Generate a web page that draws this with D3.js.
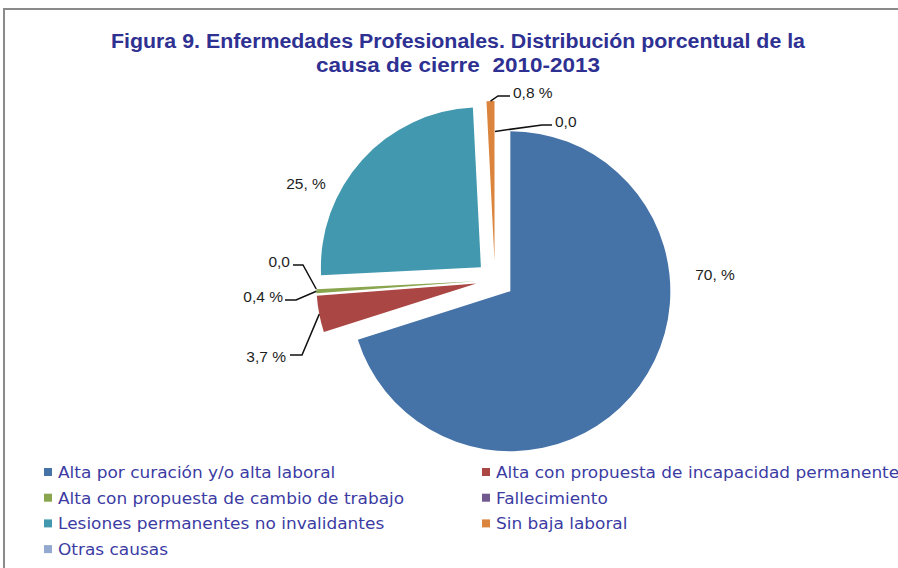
<!DOCTYPE html>
<html>
<head>
<meta charset="utf-8">
<script src="https://cdn.jsdelivr.net/npm/d3@7"></script>
<style>
  body { margin: 0; background: #fff; }
  svg { display: block; }
</style>
</head>
<body>
<svg id="chart" width="898" height="568"></svg>
<script>
const categories = [
  "Alta por curación y/o alta laboral",
  "Alta con propuesta de incapacidad permanente",
  "Alta con propuesta de cambio de trabajo",
  "Fallecimiento",
  "Lesiones permanentes no invalidantes",
  "Sin baja laboral",
  "Otras causas"
];
const values = [70.1, 3.7, 0.4, 0.0, 25.0, 0.8, 0.0];
const valueLabels = ["70, %", "3,7 %", "0,4 %", "0,0", "25, %", "0,8 %", "0,0"];
const colors = ["#4572A7", "#AA4643", "#89A54E", "#71588F", "#4198AF", "#DB843D", "#93A9CF"];
const titleLines = [
  "Figura 9. Enfermedades Profesionales. Distribución porcentual de la",
  "causa de cierre  2010-2013"
];

const svg = d3.select("#chart");

// marco del gráfico
svg.append("path")
  .attr("d", "M4,568 V9 H898")
  .attr("fill", "none")
  .attr("stroke", "#8a8a8a")
  .attr("stroke-width", 2);

// título
const title = svg.append("g")
  .attr("fill", "#2E3192")
  .attr("font-family", "'Liberation Sans', Arial, sans-serif")
  .attr("font-weight", "bold")
  .attr("font-size", 20)
  .attr("text-anchor", "middle");
title.selectAll("text")
  .data(titleLines)
  .enter()
  .append("text")
  .attr("x", 458)
  .attr("y", (d, i) => 48 + i * 24)
  .attr("textLength", (d, i) => i === 0 ? 694 : 284)
  .attr("lengthAdjust", "spacingAndGlyphs")
  .style("white-space", "pre")
  .text(d => d);

// tarta
const cx = 495, cy = 280, r = 160, explode = 19;

const pie = d3.pie().sort(null).value(d => d).startAngle(0).endAngle(2 * Math.PI);
const arcs = pie(values);
const arc = d3.arc().innerRadius(0).outerRadius(r);

function mid(d) { return (d.startAngle + d.endAngle) / 2; }
function offset(d) {
  const a = mid(d);
  return [cx + explode * Math.sin(a), cy - explode * Math.cos(a)];
}
function pointOn(d, f) {
  const a = mid(d);
  const o = offset(d);
  return [o[0] + r * f * Math.sin(a), o[1] - r * f * Math.cos(a)];
}

svg.append("g")
  .selectAll("path")
  .data(arcs)
  .enter()
  .append("path")
  .attr("transform", d => `translate(${offset(d)})`)
  .attr("d", arc)
  .attr("fill", (d, i) => colors[i]);

// etiquetas (posición ajustada a mano, como en Excel)
const labelLayout = [
  { x: 715, y: 280, anchor: "middle" },
  { x: 286, y: 362, anchor: "end", elbow: [302, 355], end: [290, 355], f: 1 },
  { x: 283, y: 302, anchor: "end", elbow: [296, 300], end: [285, 300], f: 1 },
  { x: 290, y: 267, anchor: "end", elbow: [303, 265], end: [293, 265], f: 1 },
  { x: 306, y: 189, anchor: "middle" },
  { x: 513, y: 98, anchor: "start", elbow: [498, 96], end: [510, 96], f: 1 },
  { x: 555, y: 127, anchor: "start", elbow: [542, 125], end: [552, 125], f: 0.81 }
];

svg.append("g")
  .attr("fill", "none")
  .attr("stroke", "#111")
  .attr("stroke-width", 1.5)
  .selectAll("polyline")
  .data(arcs.filter((d, i) => labelLayout[i].elbow))
  .enter()
  .append("polyline")
  .attr("points", d => {
    const L = labelLayout[d.index];
    return [pointOn(d, L.f), L.elbow, L.end].map(p => p.join(",")).join(" ");
  });

svg.append("g")
  .attr("font-family", "'Liberation Sans', Arial, sans-serif")
  .attr("font-size", 15.5)
  .attr("fill", "#1e1e1e")
  .selectAll("text")
  .data(valueLabels)
  .enter()
  .append("text")
  .attr("x", (d, i) => labelLayout[i].x)
  .attr("y", (d, i) => labelLayout[i].y)
  .attr("text-anchor", (d, i) => labelLayout[i].anchor)
  .text(d => d);

// leyenda
const legend = svg.append("g")
  .attr("font-family", "'DejaVu Sans', sans-serif")
  .attr("font-size", 16);

const item = legend.selectAll("g")
  .data(categories)
  .enter()
  .append("g")
  .attr("transform", (d, i) => `translate(${i % 2 ? 482 : 44},${472 + Math.floor(i / 2) * 25.7})`);

item.append("rect")
  .attr("x", 0)
  .attr("y", -4)
  .attr("width", 8)
  .attr("height", 8)
  .attr("fill", (d, i) => colors[i]);

item.append("text")
  .attr("transform", "translate(14,6) scale(1.06,1)")
  .attr("fill", "#3B3BA3")
  .text(d => d);
</script>
</body>
</html>
